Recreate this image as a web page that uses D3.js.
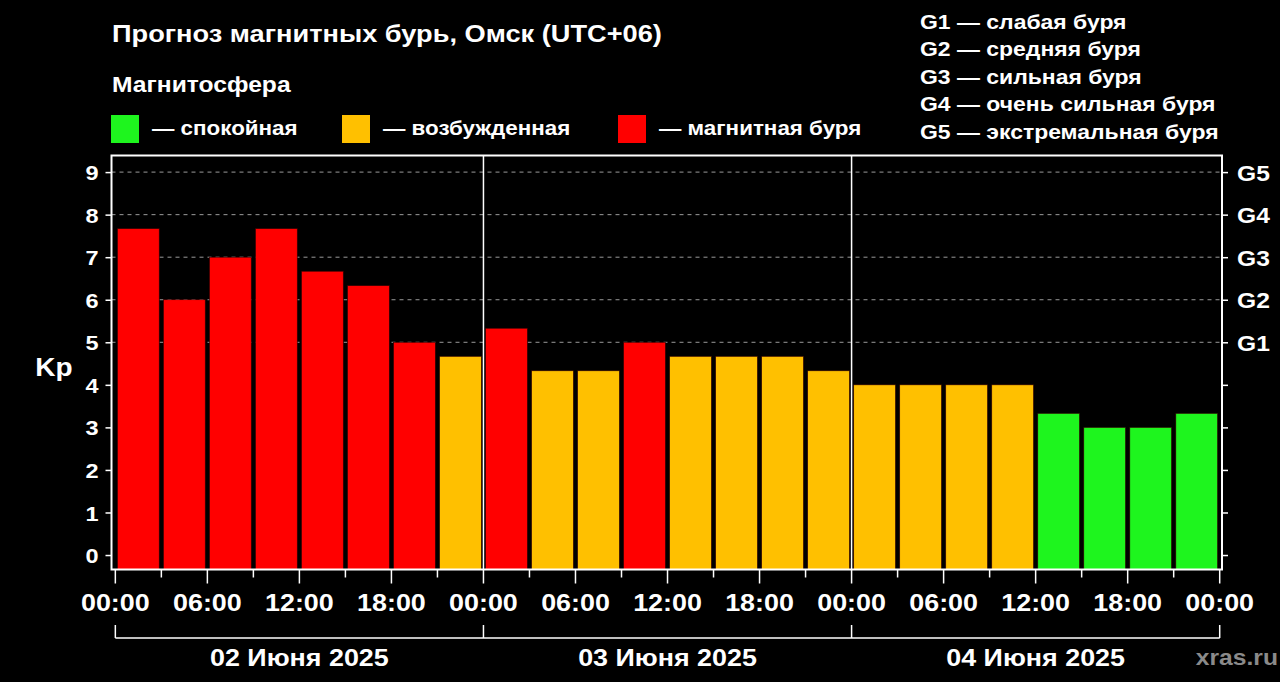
<!DOCTYPE html>
<html>
<head>
<meta charset="utf-8">
<script src="https://cdn.jsdelivr.net/npm/d3@7"></script>
<style>
  body { margin: 0; background: #000; }
  text { font-family: "Liberation Sans", Arial, sans-serif; font-weight: bold; fill: #fff; }
</style>
</head>
<body>
<script>
// Kp forecast, 3-hour intervals
var days = ["02 Июня 2025", "03 Июня 2025", "04 Июня 2025"];
var kpValues = [
  7.67, 6, 7, 7.67, 6.67, 6.33, 5, 4.67,
  5.33, 4.33, 4.33, 5, 4.67, 4.67, 4.67, 4.33,
  4, 4, 4, 4, 3.33, 3, 3, 3.33
];
var yTicks = [0, 1, 2, 3, 4, 5, 6, 7, 8, 9];
var gLabels = ["G1", "G2", "G3", "G4", "G5"];
var gLevels = [5, 6, 7, 8, 9];
var xLabels = ["00:00", "06:00", "12:00", "18:00"];
var legendItems = ["— спокойная", "— возбужденная", "— магнитная буря"];
var gLegend = ["G1 — слабая буря", "G2 — средняя буря", "G3 — сильная буря",
               "G4 — очень сильная буря", "G5 — экстремальная буря"];

var colGreen = "#1ef51e", colOrange = "#ffc000", colRed = "#ff0000";
function kpColor(v) { return v >= 5 ? colRed : (v >= 4 ? colOrange : colGreen); }

var width = 1280, height = 682;
var pLeft = 111.5, pRight = 1222, pTop = 155.5, pBot = 569.5;
var stretch = 1.12; // the original text is a bit wider than Arial

var svg = d3.select("body").append("svg")
  .attr("width", width).attr("height", height);

var x = d3.scaleLinear().domain([-0.25, 72.15]).range([pLeft, pRight]);
var y = d3.scaleLinear().domain([-0.34, 9.39]).range([pBot, pTop]);

// grid at storm levels
svg.append("g").selectAll("line").data(gLevels).enter().append("line")
  .attr("x1", pLeft).attr("x2", pRight)
  .attr("y1", function(d) { return y(d); }).attr("y2", function(d) { return y(d); })
  .attr("stroke", "#9a9a9a").attr("stroke-width", 1).attr("stroke-dasharray", "4,4");

// bars
svg.append("g").selectAll("rect").data(kpValues).enter().append("rect")
  .attr("x", function(d, i) { return x(i * 3 + 0.14); })
  .attr("width", x(2.72) - x(0))
  .attr("y", function(d) { return y(d); })
  .attr("height", function(d) { return pBot - y(d); })
  .attr("fill", kpColor)
  .attr("stroke", "#300").attr("stroke-width", 0.6);

// day separators
svg.append("g").selectAll("line").data([24, 48]).enter().append("line")
  .attr("x1", function(d) { return x(d); }).attr("x2", function(d) { return x(d); })
  .attr("y1", pTop).attr("y2", pBot)
  .attr("stroke", "#fff").attr("stroke-width", 1.5);

// frame
svg.append("rect").attr("x", pLeft).attr("y", pTop)
  .attr("width", pRight - pLeft).attr("height", pBot - pTop)
  .attr("fill", "none").attr("stroke", "#fff").attr("stroke-width", 2);

// left axis
var yAxisL = svg.append("g").attr("transform", "translate(" + pLeft + ",0)")
  .call(d3.axisLeft(y).tickValues(yTicks).tickSize(6).tickPadding(7));
yAxisL.select(".domain").remove();
yAxisL.selectAll("line").attr("stroke", "#fff").attr("stroke-width", 1.5);
yAxisL.selectAll("text").attr("fill", "#fff").style("font-size", "21px")
  .style("font-family", "Liberation Sans, Arial, sans-serif").style("font-weight", "bold")
  .attr("dy", "0.36em");

// right axis
var yAxisR = svg.append("g").attr("transform", "translate(" + pRight + ",0)")
  .call(d3.axisRight(y).tickValues(yTicks).tickSize(6).tickPadding(9)
    .tickFormat(function(d) { var k = gLevels.indexOf(d); return k >= 0 ? gLabels[k] : ""; }));
yAxisR.select(".domain").remove();
yAxisR.selectAll("line").attr("stroke", "#fff").attr("stroke-width", 1.5);
yAxisR.selectAll("text").attr("fill", "#fff").style("font-size", "22px")
  .style("font-family", "Liberation Sans, Arial, sans-serif").style("font-weight", "bold")
  .attr("dy", "0.36em");

svg.append("text").attr("x", 54).attr("y", 376).attr("text-anchor", "middle")
  .style("font-size", "25px").text("Kp");

// bottom axis: minor ticks every 3h, major every 6h
var minor = d3.range(0, 73, 3);
svg.append("g").selectAll("line").data(minor).enter().append("line")
  .attr("x1", function(d) { return x(d); }).attr("x2", function(d) { return x(d); })
  .attr("y1", pBot).attr("y2", function(d) { return d % 6 === 0 ? pBot + 14 : pBot + 8; })
  .attr("stroke", "#fff").attr("stroke-width", 1.5);

var major = d3.range(0, 73, 6);
svg.append("g").selectAll("text").data(major).enter().append("text")
  .attr("x", function(d) { return x(d); }).attr("y", 611)
  .attr("text-anchor", "middle").style("font-size", "24px")
  .text(function(d) { return xLabels[(d % 24) / 6]; });

// day brackets
var br = svg.append("g").attr("stroke", "#fff").attr("stroke-width", 1.5).attr("fill", "none");
br.append("line").attr("x1", x(0)).attr("x2", x(72)).attr("y1", 638).attr("y2", 638);
br.selectAll(".tick").data([0, 24, 48, 72]).enter().append("line")
  .attr("x1", function(d) { return x(d); }).attr("x2", function(d) { return x(d); })
  .attr("y1", 625).attr("y2", 638);

svg.append("g").selectAll("text").data(days).enter().append("text")
  .attr("x", function(d, i) { return x(i * 24 + 12); }).attr("y", 666)
  .attr("text-anchor", "middle").style("font-size", "24px")
  .text(function(d) { return d; });

svg.append("text").attr("x", 1278).attr("y", 665).attr("text-anchor", "end")
  .style("font-size", "22px").style("fill", "#8a8a8a")
  .text("xras.ru");

// titles
svg.append("text").attr("x", 112).attr("y", 42).style("font-size", "24.3px")
  .text("Прогноз магнитных бурь, Омск (UTC+06)");
svg.append("text").attr("x", 112).attr("y", 92).style("font-size", "22px")
  .text("Магнитосфера");

// colour legend
var legendX = [111, 342, 618];
var legendCol = [colGreen, colOrange, colRed];
var lg = svg.append("g").selectAll("g").data(legendItems).enter().append("g")
  .attr("transform", function(d, i) { return "translate(" + legendX[i] + ",115)"; });
lg.append("rect").attr("width", 28).attr("height", 28)
  .attr("fill", function(d, i) { return legendCol[i]; });
lg.append("text").attr("x", 41).attr("y", 20).style("font-size", "20px")
  .text(function(d) { return d; });

// storm level legend
svg.append("g").selectAll("text").data(gLegend).enter().append("text")
  .attr("x", 920).attr("y", function(d, i) { return 29 + i * 27.5; })
  .style("font-size", "20.5px").text(function(d) { return d; });

// widen every text horizontally around its anchor
svg.selectAll("text").each(function() {
  var t = d3.select(this), tx = +t.attr("x") || 0;
  t.attr("transform", "translate(" + tx + ",0) scale(" + stretch + ",1) translate(" + (-tx) + ",0)");
});
</script>
</body>
</html>
